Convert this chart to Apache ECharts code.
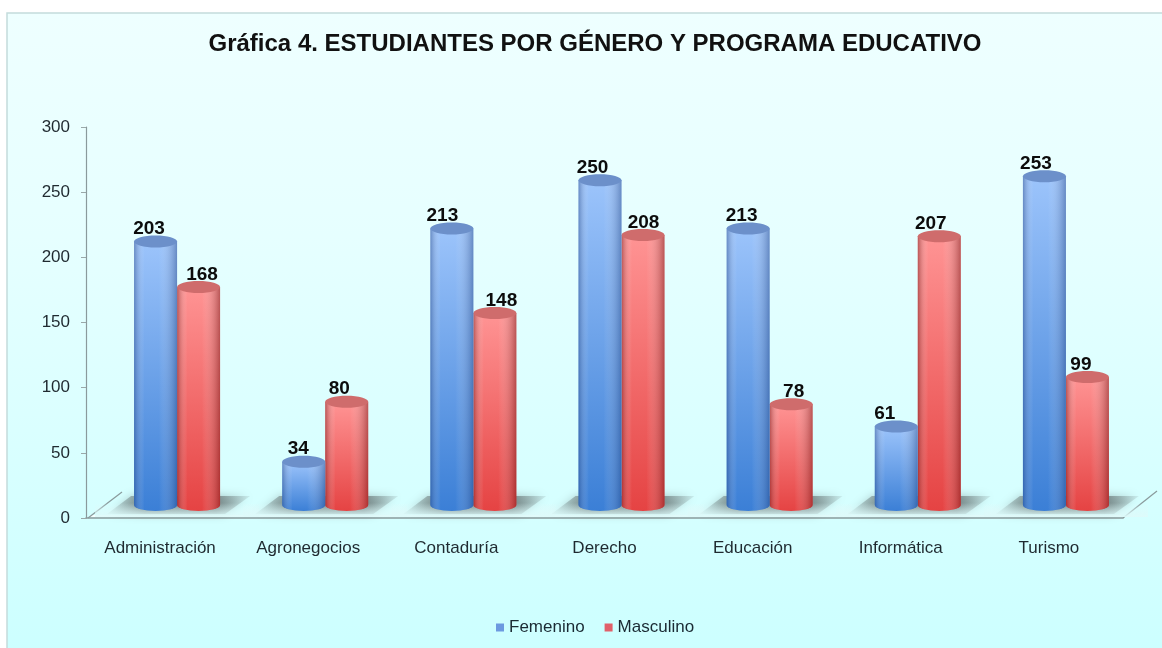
<!DOCTYPE html>
<html>
<head>
<meta charset="utf-8">
<title>Estudiantes por género</title>
<style>
html, body { margin: 0; padding: 0; background: #fff; }
#main { width: 1162px; height: 648px; }
</style>
<script src="https://cdn.jsdelivr.net/npm/echarts@6/dist/echarts.min.js"></script>
</head>
<body>
<div id="main"></div>
<script>
var categories = ['Administración', 'Agronegocios', 'Contaduría', 'Derecho', 'Educación', 'Informática', 'Turismo'];
var femenino = [203, 34, 213, 250, 213, 61, 253];
var masculino = [168, 80, 148, 208, 78, 207, 99];

// corrimiento de cada etiqueta respecto al centro de la categoria
var nudgeFemenino = [-11, -10, -14, -12, -11, -16, -13];
var nudgeMasculino = [42, 31, 45, 39, 41, 30, 32];

// cilindros: se dibujan corridos del eje, como el 3D original
var depthX = 17, depthY = -12, barW = 43, capH = 6;
var fontName = '"Liberation Sans", Arial, sans-serif';

function hGrad(stops) {
    return { type: 'linear', x: 0, y: 0, x2: 1, y2: 0, colorStops: stops };
}
function vGrad(stops) {
    return { type: 'linear', x: 0, y: 0, x2: 0, y2: 1, colorStops: stops };
}

var blue = { top: '#9cc4fb', bottom: '#3b7fd6', cap: '#6c90ca', edge: 'rgba(30,60,120,0.42)' };
var red = { top: '#ff9494', bottom: '#e54343', cap: '#cf6c6c', edge: 'rgba(110,20,20,0.48)' };

function cylinder(params, api, side, pal, nudge) {
    var top = api.coord([api.value(0), api.value(1)]);
    var base = api.coord([api.value(0), 0]);
    var cx = top[0] + depthX + side * barW / 2;
    var x = cx - barW / 2;
    var yTop = top[1] + depthY;
    var yBase = base[1] + depthY - 1;
    var body = {
        pathData: 'M0 0 L' + barW + ' 0 L' + barW + ' ' + (yBase - yTop) +
            ' A' + (barW / 2) + ' ' + capH + ' 0 0 1 0 ' + (yBase - yTop) + ' Z',
        layout: 'center', x: x, y: yTop, width: barW, height: yBase - yTop + capH
    };
    return {
        type: 'group',
        children: [
            // cuerpo, degradado de arriba hacia abajo
            {
                type: 'path',
                shape: body,
                style: { fill: vGrad([{ offset: 0, color: pal.top }, { offset: 1, color: pal.bottom }]) }
            },
            // sombreado lateral
            {
                type: 'path',
                shape: body,
                style: {
                    fill: hGrad([
                        { offset: 0, color: pal.edge },
                        { offset: 0.24, color: 'rgba(255,255,255,0)' },
                        { offset: 0.58, color: 'rgba(255,255,255,0)' },
                        { offset: 1, color: pal.edge }
                    ])
                }
            },
            // tapa
            {
                type: 'ellipse',
                shape: { cx: cx, cy: yTop, rx: barW / 2, ry: capH },
                style: { fill: pal.cap }
            },
            {
                type: 'text',
                style: {
                    x: top[0] + nudge[params.dataIndex],
                    y: yTop - 3,
                    text: String(api.value(1)),
                    fill: '#0c0c0c',
                    font: 'bold 19px ' + fontName,
                    align: 'center',
                    verticalAlign: 'bottom'
                }
            }
        ]
    };
}

function renderFemenino(params, api) {
    return cylinder(params, api, -1, blue, nudgeFemenino);
}
function renderMasculino(params, api) {
    return cylinder(params, api, 1, red, nudgeMasculino);
}

// sombra de cada par de barras sobre el piso
function renderShadow(params, api) {
    var base = api.coord([api.value(0), 0]);
    var cx = base[0] + depthX;
    return {
        type: 'group',
        children: [{
            type: 'polygon',
            shape: {
                points: [
                    [cx - 70, base[1] - 4],
                    [cx - 46, base[1] - 22],
                    [cx + 73, base[1] - 22],
                    [cx + 48, base[1] - 4]
                ]
            },
            style: {
                fill: hGrad([
                    { offset: 0, color: 'rgba(130,150,150,0.15)' },
                    { offset: 0.26, color: 'rgba(110,125,125,0.82)' },
                    { offset: 0.76, color: 'rgba(110,125,125,0.82)' },
                    { offset: 1, color: 'rgba(130,150,150,0.15)' }
                ]),
                shadowBlur: 10,
                shadowColor: 'rgba(120,140,140,0.75)'
            }
        }, {
            type: 'rect',
            shape: { x: cx - 82, y: base[1] - 15, width: 164, height: 14 },
            style: {
                fill: vGrad([
                    { offset: 0, color: 'rgba(222,250,250,0)' },
                    { offset: 1, color: 'rgba(222,250,250,0.95)' }
                ])
            }
        }]
    };
}

// bordes laterales del piso
function renderFloor(params, api) {
    var rect = params.coordSys;
    var y0 = rect.y + rect.height;
    var xr = rect.x + rect.width;
    var line = { stroke: '#8a9a9c', lineWidth: 1.2 };
    return {
        type: 'group',
        children: [
            { type: 'line', shape: { x1: rect.x + 4, y1: y0 - 2, x2: xr - 2, y2: y0 - 2 }, style: { stroke: '#f4ffff', lineWidth: 2 } },
            { type: 'line', shape: { x1: rect.x + 2, y1: y0, x2: rect.x + 36, y2: y0 - 26 }, style: line },
            { type: 'line', shape: { x1: xr, y1: y0, x2: xr + 34, y2: y0 - 27 }, style: line }
        ]
    };
}

var option = {
    animation: false,
    backgroundColor: '#fff',
    // panel con borde, deja el margen blanco arriba y a la izquierda
    graphic: [{
        type: 'rect',
        z: -10,
        silent: true,
        shape: { x: 7, y: 13, width: 1160, height: 640 },
        style: {
            fill: vGrad([
                { offset: 0, color: '#eeffff' },
                { offset: 0.35, color: '#e6ffff' },
                { offset: 1, color: '#ccffff' }
            ]),
            stroke: '#c4dcdc',
            lineWidth: 1.5
        }
    }],
    title: {
        text: 'Gráfica 4. ESTUDIANTES POR GÉNERO Y PROGRAMA EDUCATIVO',
        left: 590,
        top: 27,
        textAlign: 'center',
        textStyle: { color: '#111', fontSize: 24, fontWeight: 'bold', fontFamily: fontName }
    },
    legend: {
        data: ['Femenino', 'Masculino'],
        bottom: 7,
        left: 491,
        icon: 'rect',
        itemWidth: 8,
        itemHeight: 8,
        itemGap: 20,
        textStyle: { color: '#1a2a33', fontSize: 17, fontFamily: fontName }
    },
    grid: { left: 86, right: 39, top: 127, bottom: 130 },
    xAxis: {
        type: 'category',
        data: categories,
        axisLine: { lineStyle: { color: '#8a9a9c', width: 1.5 } },
        axisTick: { length: 5, lineStyle: { color: '#9aa8a8' } },
        axisLabel: { color: '#1f2a30', fontSize: 17, margin: 22, fontFamily: fontName }
    },
    yAxis: {
        type: 'value',
        min: 0,
        max: 300,
        interval: 50,
        axisLine: { show: true, lineStyle: { color: '#8a9a9c', width: 1.2 } },
        axisTick: { show: true, length: 5, lineStyle: { color: '#9aa8a8' } },
        splitLine: { show: false },
        axisLabel: { color: '#1f2a30', fontSize: 17, margin: 16, fontFamily: fontName }
    },
    series: [
        {
            type: 'custom',
            name: 'piso',
            silent: true,
            z: 1,
            clip: false,
            renderItem: renderFloor,
            data: [[0, 0]]
        },
        {
            type: 'custom',
            name: 'sombra',
            silent: true,
            z: 2,
            clip: false,
            renderItem: renderShadow,
            data: categories.map(function (c, i) { return [i, 0]; })
        },
        {
            type: 'custom',
            name: 'Femenino',
            z: 4,
            clip: false,
            itemStyle: { color: '#6c9ae0' },
            renderItem: renderFemenino,
            data: femenino.map(function (v, i) { return [i, v]; })
        },
        {
            type: 'custom',
            name: 'Masculino',
            z: 3,
            clip: false,
            itemStyle: { color: '#e0606a' },
            renderItem: renderMasculino,
            data: masculino.map(function (v, i) { return [i, v]; })
        }
    ]
};

var myChart = echarts.init(document.getElementById('main'));
myChart.setOption(option);
</script>
</body>
</html>
